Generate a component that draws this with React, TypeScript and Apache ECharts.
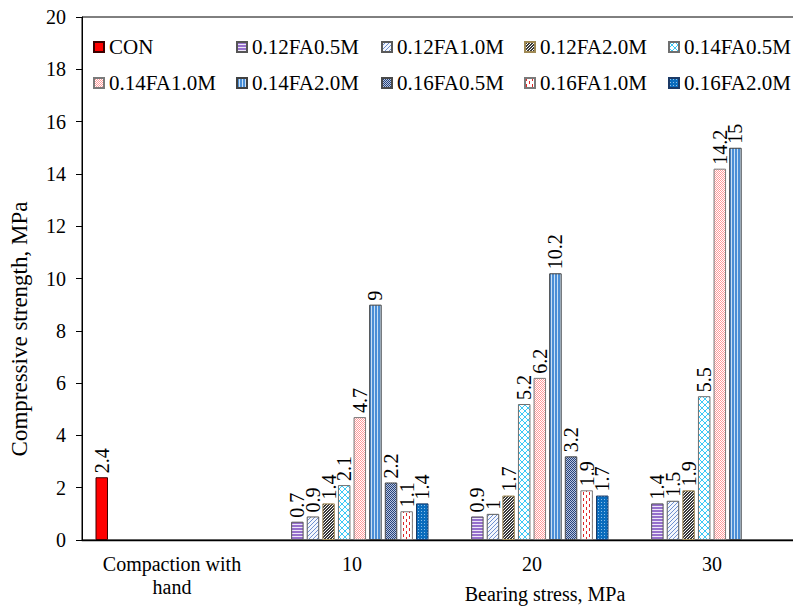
import React, { useEffect, useRef } from "react";
import * as echarts from "echarts";

const categories = ["Compaction with\nhand", "10", "20", "30"];
const seriesNames = [
  "CON",
  "0.12FA0.5M",
  "0.12FA1.0M",
  "0.12FA2.0M",
  "0.14FA0.5M",
  "0.14FA1.0M",
  "0.14FA2.0M",
  "0.16FA0.5M",
  "0.16FA1.0M",
  "0.16FA2.0M",
];
const valCON = [2.4, null, null, null];
const val12FA05 = [null, 0.7, 0.9, 1.4];
const val12FA10 = [null, 0.9, 1, 1.5];
const val12FA20 = [null, 1.4, 1.7, 1.9];
const val14FA05 = [null, 2.1, 5.2, 5.5];
const val14FA10 = [null, 4.7, 6.2, 14.2];
const val14FA20 = [null, 9, 10.2, 15];
const val16FA05 = [null, 2.2, 3.2, null];
const val16FA10 = [null, 1.1, 1.9, null];
const val16FA20 = [null, 1.4, 1.7, null];
const seriesValues = [
  valCON,
  val12FA05,
  val12FA10,
  val12FA20,
  val14FA05,
  val14FA10,
  val14FA20,
  val16FA05,
  val16FA10,
  val16FA20,
];
const yTicks = [0, 2, 4, 6, 8, 10, 12, 14, 16, 18, 20];

const FONT = "Liberation Serif";

function tile(w: number, h: number, bg: string, draw: (c: CanvasRenderingContext2D) => void) {
  const cv = document.createElement("canvas");
  cv.width = w;
  cv.height = h;
  const c = cv.getContext("2d") as CanvasRenderingContext2D;
  c.fillStyle = bg;
  c.fillRect(0, 0, w, h);
  draw(c);
  return { image: cv, repeat: "repeat", imageWidth: w, imageHeight: h } as any;
}

function px(c: CanvasRenderingContext2D, color: string, pts: number[][]) {
  c.fillStyle = color;
  pts.forEach(([x, y]) => c.fillRect(x, y, 1, 1));
}

function makeStyles() {
  return [
    { color: "#FF0000", borderColor: "#3a0000" },
    {
      color: tile(4, 3, "#EEE6F8", (c) => {
        c.fillStyle = "#9670CC";
        c.fillRect(0, 0, 4, 2);
      }),
      borderColor: "#555555",
    },
    {
      color: tile(4, 4, "#F4F7FD", (c) => {
        px(c, "#6F8FD0", [[3, 0], [2, 1], [1, 2], [0, 3]]);
      }),
      borderColor: "#5a5a5a",
    },
    {
      color: tile(3, 3, "#FFFFFF", (c) => {
        px(c, "#3a3a3a", [[2, 0], [1, 1], [0, 2], [1, 0], [0, 1], [2, 2]]);
      }),
      borderColor: "#A08A55",
    },
    {
      color: tile(6, 6, "#FFFFFF", (c) => {
        px(c, "#3CC8F5", [
          [0, 0], [1, 1], [2, 2], [3, 3], [4, 4], [5, 5],
          [5, 0], [4, 1], [3, 2], [2, 3], [1, 4], [0, 5],
        ]);
      }),
      borderColor: "#6f6f6f",
    },
    {
      color: tile(2, 2, "#FFFFFF", (c) => {
        px(c, "#FF9A9A", [[0, 0], [1, 1]]);
      }),
      borderColor: "#7a7a7a",
    },
    {
      color: tile(3, 4, "#C9E0F5", (c) => {
        c.fillStyle = "#4A8ED6";
        c.fillRect(0, 0, 2, 4);
      }),
      borderColor: "#404040",
    },
    {
      color: tile(2, 2, "#B8C6E0", (c) => {
        px(c, "#27427A", [[0, 0], [1, 1]]);
      }),
      borderColor: "#4a4a4a",
    },
    {
      color: tile(6, 6, "#FFFFFF", (c) => {
        px(c, "#E02828", [[1, 0], [1, 1], [1, 2], [4, 3], [4, 4], [4, 5]]);
      }),
      borderColor: "#7a7a7a",
    },
    {
      color: tile(3, 3, "#0A6CBD", (c) => {
        px(c, "#8CC0EA", [[1, 1]]);
      }),
      borderColor: "#1C3A66",
    },
  ];
}

const legendCols = [93, 236, 381, 524, 668];
const legendRows = [35, 71];

export default function App() {
  const ref = useRef<HTMLDivElement>(null);
  useEffect(() => {
    if (!ref.current) return;
    const chart = echarts.init(ref.current, undefined, { renderer: "svg" });
    const styles = makeStyles();
    const legends = seriesNames.map((name, i) => ({
      data: [name],
      left: legendCols[i % 5],
      top: legendRows[Math.floor(i / 5)],
      padding: 0,
      itemWidth: 10,
      itemHeight: 10,
      icon: "rect",
      textStyle: { fontFamily: FONT, fontSize: 21, color: "#000", lineHeight: 24 },
    }));
    const option: any = {
      animation: false,
      backgroundColor: "#FFFFFF",
      textStyle: { fontFamily: FONT },
      grid: {
        left: 82,
        top: 17,
        width: 720,
        height: 523,
        show: true,
        borderColor: "#000",
        borderWidth: 1,
        containLabel: false,
      },
      legend: legends,
      xAxis: {
        type: "category",
        data: categories,
        axisLine: { lineStyle: { color: "#000", width: 1.3 } },
        axisTick: { show: false },
        axisLabel: {
          fontFamily: FONT,
          fontSize: 20,
          color: "#000",
          margin: 12,
          lineHeight: 23,
          interval: 0,
        },
      },
      yAxis: {
        type: "value",
        min: 0,
        max: 20,
        interval: 2,
        splitLine: { show: false },
        axisLine: { show: true, lineStyle: { color: "#000", width: 1 } },
        axisTick: { show: true, length: 6, lineStyle: { color: "#000" } },
        axisLabel: {
          fontFamily: FONT,
          fontSize: 20,
          color: "#000",
          margin: 16,
          formatter: (v: number) => (yTicks.includes(v) ? String(v) : ""),
        },
      },
      graphic: [
        {
          type: "text",
          x: 545,
          y: 594,
          style: {
            text: "Bearing stress, MPa",
            fontFamily: FONT,
            fontSize: 20,
            fill: "#000",
            textAlign: "center",
            textVerticalAlign: "middle",
          },
        },
        {
          type: "text",
          x: 19,
          y: 329,
          rotation: Math.PI / 2,
          style: {
            text: "Compressive strength, MPa",
            fontFamily: FONT,
            fontSize: 23,
            fill: "#000",
            textAlign: "center",
            textVerticalAlign: "middle",
          },
        },
      ],
      series: seriesNames.map((name, i) => ({
        name,
        type: "bar",
        data: seriesValues[i],
        barGap: "25%",
        barCategoryGap: "15%",
        itemStyle: { ...styles[i], borderWidth: 1 },
        label: {
          show: true,
          position: "top",
          rotate: 90,
          align: "left",
          verticalAlign: "middle",
          distance: 4,
          fontFamily: FONT,
          fontSize: 20,
          color: "#000",
        },
      })),
    };
    chart.setOption(option);
    return () => chart.dispose();
  }, []);
  return (
    <div
      style={{
        position: "fixed",
        left: 0,
        top: 0,
        width: 793,
        height: 607,
        overflow: "hidden",
        background: "#fff",
      }}
    >
      <div ref={ref} style={{ width: 803, height: 607 }} />
    </div>
  );
}
